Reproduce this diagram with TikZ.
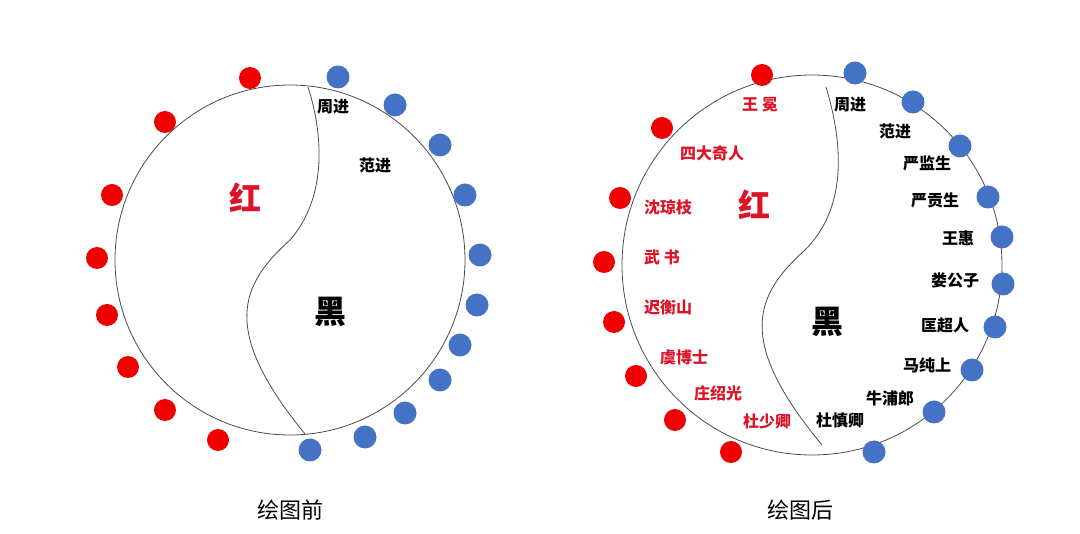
\documentclass[tikz,border=0pt]{standalone}
\usepackage{fontspec}
\newfontfamily\cjk{Noto Sans CJK SC}
\definecolor{dotred}{RGB}{240,0,0}
\definecolor{dotblue}{RGB}{68,114,196}
\definecolor{txtred}{RGB}{220,20,40}
\begin{document}
\begin{tikzpicture}[x=1pt,y=-1pt,
    ring/.style={draw=black!70, line width=0.8pt},
    reddot/.style={circle, fill=dotred, minimum size=22pt, inner sep=0pt},
    bluedot/.style={circle, fill=dotblue, minimum size=23pt, inner sep=0pt},
    redname/.style={font=\cjk\bfseries\fontsize{16}{16}\selectfont, text=txtred},
    blackname/.style={font=\cjk\bfseries\fontsize{16}{16}\selectfont},
    bigred/.style={font=\cjk\bfseries\fontsize{32}{32}\selectfont, text=txtred},
    bigblack/.style={font=\cjk\bfseries\fontsize{32}{32}\selectfont},
    caption/.style={font=\cjk\fontsize{22}{22}\selectfont}]
\useasboundingbox (0,0) rectangle (1080,534);
% before
\node[circle, ring, minimum size=350pt, inner sep=0pt] (left) at (290,260) {};
\coordinate (ltop) at (308,87);
\coordinate (lbot) at (305,434);
\draw[ring] (ltop) .. controls (325,140) and (325,200) .. (290,240)
  .. controls (240,285) and (220,330) .. (lbot);
\foreach \x/\y [count=\i] in {250/78,165/122,112/195,97/258,107/315,128/367,165/410,218/440}
  \node[reddot] (lr\i) at (\x,\y) {};
\foreach \x/\y [count=\i] in {338/77,395/105,440/145,465/195,480/255,477/305,460/345,440/380,405/413,365/437,310/450}
  \node[bluedot] (lb\i) at (\x,\y) {};
\node[blackname] (lzhou) at (333,107) {周进};
\node[blackname] (lfan) at (375,165) {范进};
\node[bigred] (lhong) at (245,198) {红};
\node[bigblack] (lhei) at (330,312) {黑};
\node[caption] (lcap) at (290,510) {绘图前};
% after
\node[circle, ring, minimum size=380pt, inner sep=0pt] (right) at (812,265) {};
\coordinate (rtop) at (826,87);
\coordinate (rbot) at (822,445);
\draw[ring] (rtop) .. controls (845,150) and (845,210) .. (805,250)
  .. controls (755,295) and (735,340) .. (rbot);
\foreach \x/\y [count=\i] in {762/75,662/128,620/198,604/262,614/322,636/376,675/420,731/452}
  \node[reddot] (rr\i) at (\x,\y) {};
\foreach \x/\y [count=\i] in {855/73,913/102,960/146,988/197,1002/237,1003/284,995/327,972/370,934/412,874/452}
  \node[bluedot] (rb\i) at (\x,\y) {};
\foreach \t/\x/\y [count=\i] in {王\ 冕/760/105,四大奇人/712/153,沈琼枝/668/207,武\ 书/662/257,迟衡山/668/307,虞博士/684/357,庄绍光/718/393,杜少卿/767/421}
  \node[redname] (rn\i) at (\x,\y) {\t};
\foreach \t/\x/\y [count=\i] in {周进/850/105,范进/895/131,严监生/927/163,严贡生/935/200,王惠/958/238,娄公子/955/280,匡超人/945/325,马纯上/927/365,牛浦郎/890/398,杜慎卿/840/420}
  \node[blackname] (bn\i) at (\x,\y) {\t};
\node[bigred] (rhong) at (754,205) {红};
\node[bigblack] (rhei) at (827,322) {黑};
\node[caption] (rcap) at (800,510) {绘图后};
\end{tikzpicture}
\end{document}
